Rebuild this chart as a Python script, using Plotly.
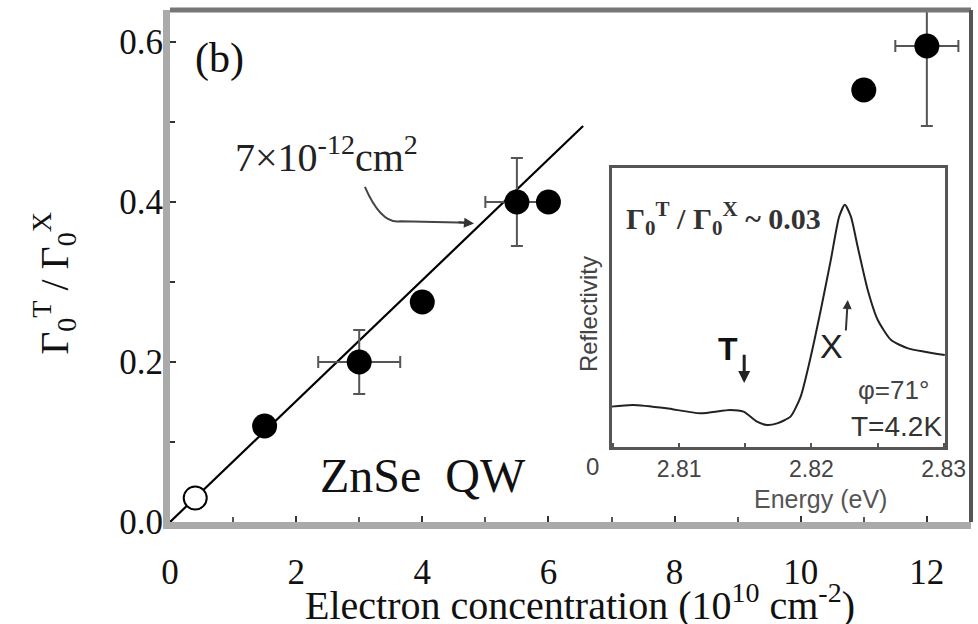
import plotly.graph_objects as go

# ---------------- data ----------------
# main panel: Gamma_0^T / Gamma_0^X vs electron concentration
open_x = [0.4]
open_y = [0.03]

filled_x = [1.5, 4.0, 6.0, 11.0]
filled_y = [0.12, 0.275, 0.40, 0.54]

err_x = [3.0, 5.5, 12.0]
err_y = [0.20, 0.40, 0.595]
err_dx = [0.65, 0.5, 0.5]
err_dy = [0.04, 0.055, 0.10]

fit_x = [0.0, 6.55]
fit_y = [0.0, 0.495]

# inset: reflectivity spectrum (arbitrary units)
energy = [2.80486, 2.8065, 2.80904, 2.81158, 2.81386, 2.81487, 2.81589, 2.81665,
          2.81741, 2.81842, 2.81919, 2.81995, 2.82071, 2.82147, 2.82210, 2.82253,
          2.82299, 2.82350, 2.82426, 2.82502, 2.82603, 2.82731, 2.82857, 2.83009]
reflect = [0.144, 0.150, 0.138, 0.120, 0.132, 0.126, 0.090, 0.078,
           0.084, 0.108, 0.180, 0.323, 0.491, 0.671, 0.826, 0.869,
           0.826, 0.718, 0.563, 0.455, 0.383, 0.353, 0.341, 0.329]

main_xticks = [0, 2, 4, 6, 8, 10, 12]
main_yticks = [0.0, 0.2, 0.4, 0.6]
inset_xticks = [2.81, 2.82, 2.83]

SERIF = "Liberation Serif"
SANS = "Liberation Sans"

fig = go.Figure()

fig.add_trace(go.Scatter(x=fit_x, y=fit_y, mode="lines",
                         line=dict(color="black", width=2.2), showlegend=False))
fig.add_trace(go.Scatter(x=open_x, y=open_y, mode="markers",
                         marker=dict(size=23, color="white", line=dict(color="black", width=2)),
                         showlegend=False))
fig.add_trace(go.Scatter(x=err_x, y=err_y, mode="markers",
                         marker=dict(size=25, color="black"),
                         error_x=dict(type="data", array=err_dx, color="#555", thickness=2, width=6),
                         error_y=dict(type="data", array=err_dy, color="#555", thickness=2, width=6),
                         showlegend=False))
fig.add_trace(go.Scatter(x=filled_x, y=filled_y, mode="markers",
                         marker=dict(size=25, color="black"), showlegend=False))

fig.add_trace(go.Scatter(x=energy, y=reflect, mode="lines", xaxis="x2", yaxis="y2",
                         line=dict(color="#222", width=2, shape="spline", smoothing=0.6),
                         showlegend=False))

fig.update_layout(
    width=978, height=624,
    margin=dict(l=170, r=7, t=10, b=102, autoexpand=False),
    paper_bgcolor="white", plot_bgcolor="white",
    font=dict(family=SERIF, color="#111"),
    xaxis=dict(range=[0, 12.7], tickvals=main_xticks, ticks="inside", ticklen=6,
               tickwidth=2, tickcolor="#333", showline=True, linecolor="#aaa",
               linewidth=7, showgrid=False, zeroline=False, automargin=False,
               ticklabelstandoff=13,
               tickfont=dict(family=SERIF, size=35, color="#111"),
               minor=dict(dtick=1, tick0=0, ticks="inside", ticklen=5, tickcolor="#555", tickwidth=2)),
    yaxis=dict(range=[0, 0.64], tickvals=main_yticks, tickformat=".1f", ticks="inside",
               ticklen=6, tickwidth=2, tickcolor="#333", showline=True, linecolor="#aaa",
               linewidth=7, showgrid=False, zeroline=False, automargin=False,
               ticklabelstandoff=-7,
               tickfont=dict(family=SERIF, size=35, color="#111"),
               minor=dict(dtick=0.1, tick0=0, ticks="inside", ticklen=5, tickcolor="#333", tickwidth=2)),
    xaxis2=dict(domain=[0.5514, 0.9675], anchor="y2", range=[2.8049, 2.8301],
                tickvals=inset_xticks, ticktext=["2.81", "2.82", "2.83"], ticks="inside",
                ticklen=4, tickwidth=2, tickcolor="#555", showline=True, mirror=True,
                linecolor="#555", linewidth=3, showgrid=False, zeroline=False, automargin=False,
                tickfont=dict(family=SANS, size=23, color="#444"),
                minor=dict(dtick=0.005, tick0=2.805, ticks="inside", ticklen=4, tickcolor="#555", tickwidth=2)),
    yaxis2=dict(domain=[0.147, 0.691], anchor="x2", range=[0, 1], showticklabels=False,
                ticks="", showline=True, mirror=True, linecolor="#555", linewidth=3,
                showgrid=False, zeroline=False, automargin=False),
)

# top and right frame lines of the main panel
fig.add_shape(type="line", xref="x domain", yref="y domain", x0=0, x1=1, y0=1, y1=1,
              line=dict(color="#777", width=5))
fig.add_shape(type="line", xref="x domain", yref="y domain", x0=1, x1=1, y0=0, y1=1,
              line=dict(color="#555", width=4))

# curved pointer from the cross-section label to the fit line
fig.add_shape(type="path", xref="x", yref="y",
              path="M 3.09,0.419 Q 3.35,0.372 3.65,0.376 L 4.75,0.374",
              line=dict(color="#444", width=2))
fig.add_annotation(x=4.82, y=0.373, ax=4.55, ay=0.375, axref="x", ayref="y", xref="x", yref="y",
                   text="", showarrow=True, arrowhead=2, arrowsize=1, arrowwidth=2, arrowcolor="#333")

ann = [
    # x-axis title
    dict(x=0.512, y=-0.158, xref="paper", yref="paper",
         text="Electron concentration (10<sup>10</sup> cm<sup>-2</sup>)",
         font=dict(family=SERIF, size=40, color="#111")),
    # y-axis title
    dict(x=-0.145, y=0.467, xref="paper", yref="paper", textangle=-90,
         text="Γ<sub>0</sub><sup>T</sup> / Γ<sub>0</sub><sup>X</sup>",
         font=dict(family=SERIF, size=40, color="#111")),
    dict(x=0.79, y=0.58, xref="x", yref="y", text="(b)",
         font=dict(family=SERIF, size=42, color="#111")),
    dict(x=1.0, y=0.46, xref="x", yref="y", xanchor="left",
         text="7×10<sup>-12</sup>cm<sup>2</sup>",
         font=dict(family=SERIF, size=40, color="#222")),
    dict(x=2.35, y=0.058, xref="x", yref="y", xanchor="left", text="ZnSe  QW",
         font=dict(family=SERIF, size=48, color="#111")),
    # inset texts
    dict(x=2.8058, y=0.82, xref="x2", yref="y2", xanchor="left",
         text="<b>Γ<sub>0</sub><sup>T</sup> / Γ<sub>0</sub><sup>X</sup> ~ 0.03</b>",
         font=dict(family=SERIF, size=30, color="#333")),
    dict(x=2.8137, y=0.35, xref="x2", yref="y2", text="<b>T</b>",
         font=dict(family=SANS, size=32, color="#111")),
    dict(x=2.8215, y=0.36, xref="x2", yref="y2", text="X",
         font=dict(family=SANS, size=34, color="#222")),
    dict(x=2.8262, y=0.205, xref="x2", yref="y2", text="φ=71°",
         font=dict(family=SANS, size=26, color="#444")),
    dict(x=2.8300, y=0.074, xref="x2", yref="y2", xanchor="right", text="T=4.2K",
         font=dict(family=SANS, size=28, color="#333")),
    dict(x=0.5218, y=0.406, xref="paper", yref="paper", textangle=-90, text="Reflectivity",
         font=dict(family=SANS, size=24, color="#444")),
    dict(x=0.8127, y=0.045, xref="paper", yref="paper", text="Energy (eV)",
         font=dict(family=SANS, size=25, color="#555")),
    dict(x=0.527, y=0.109, xref="paper", yref="paper", text="0",
         font=dict(family=SANS, size=24, color="#444")),
]
for a in ann:
    a.setdefault("showarrow", False)
    a.setdefault("xanchor", "center")
    a.setdefault("yanchor", "middle")
    fig.add_annotation(**a)

# small arrows in the inset
fig.add_annotation(x=2.81492, y=0.229, ax=2.81492, ay=0.336, xref="x2", yref="y2",
                   axref="x2", ayref="y2", text="", showarrow=True, arrowhead=2,
                   arrowwidth=3, arrowsize=0.8, arrowcolor="#222")
fig.add_annotation(x=2.82275, y=0.527, ax=2.8226, ay=0.412, xref="x2", yref="y2",
                   axref="x2", ayref="y2", text="", showarrow=True, arrowhead=2,
                   arrowwidth=2, arrowsize=0.9, arrowcolor="#333")

fig.write_html("out.html")
